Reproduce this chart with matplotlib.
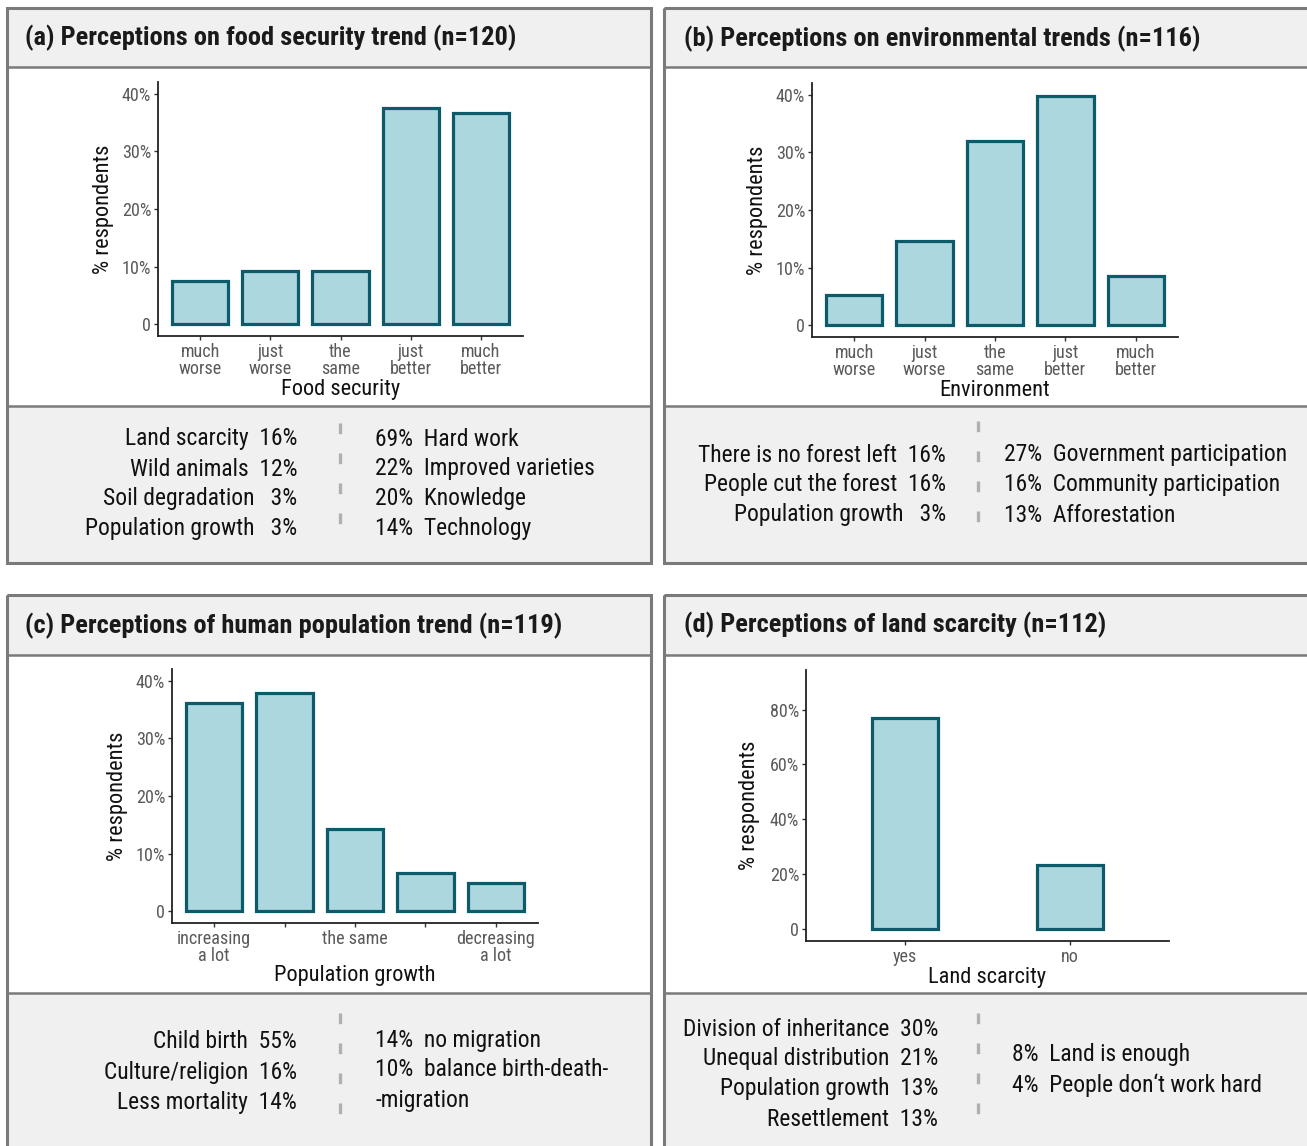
import matplotlib
matplotlib.use("Agg")
import matplotlib.pyplot as plt
from matplotlib.patches import Rectangle
from matplotlib import font_manager

W, H = 1307, 1146

names = {f.name for f in font_manager.fontManager.ttflist}
FONT = 'Roboto Condensed' if 'Roboto Condensed' in names else 'Liberation Sans'
plt.rcParams['font.family'] = [FONT, 'DejaVu Sans']

# ---- data ----
food_cats = ['much\nworse', 'just\nworse', 'the\nsame', 'just\nbetter', 'much\nbetter']
food_vals = [7.5, 9.2, 9.2, 37.5, 36.7]
env_cats = ['much\nworse', 'just\nworse', 'the\nsame', 'just\nbetter', 'much\nbetter']
env_vals = [5.2, 14.7, 31.9, 39.7, 8.6]
pop_cats = ['increasing\na lot', '', 'the same', '', 'decreasing\na lot']
pop_vals = [36.1, 37.8, 14.3, 6.7, 5.0]
land_cats = ['yes', 'no']
land_vals = [76.8, 23.2]

titles = ['(a) Perceptions on food security trend (n=120)',
          '(b) Perceptions on environmental trends (n=116)',
          '(c) Perceptions of human population trend (n=119)',
          '(d) Perceptions of land scarcity (n=112)']
xlabels = ['Food security', 'Environment', 'Population growth', 'Land scarcity']

food_left = ['Land scarcity  16%', 'Wild animals  12%', 'Soil degradation   3%', 'Population growth   3%']
food_right = ['69%  Hard work', '22%  Improved varieties', '20%  Knowledge', '14%  Technology']
env_left = ['There is no forest left  16%', 'People cut the forest  16%', 'Population growth   3%']
env_right = ['27%  Government participation', '16%  Community participation', '13%  Afforestation']
pop_left = ['Child birth  55%', 'Culture/religion  16%', 'Less mortality  14%']
pop_right = ['14%  no migration', '10%  balance birth-death-', '-migration']
land_left = ['Division of inheritance  30%', 'Unequal distribution  21%',
             'Population growth  13%', 'Resettlement  13%']
land_right = ['8%  Land is enough', '4%  People don\u2018t work hard']

FILL = '#acd7de'
EDGE = '#0c5a6a'
PANEL = '#f0f0f0'
BORDER = '#7a7a7a'

# ---- layout (pixels) ----
layout = [
    dict(box=(7, 8, 651, 563), hb=67, cb=406, ax=(158, 82, 523, 336), ymax=40,
         tpos=(25, 38), ylx=104, xly=389, width=0.8,
         lx=297, lys=[439, 469, 499, 529], dx=340, dy=(423, 543), rx=375, rys=[439, 469, 499, 529]),
    dict(box=(664, 8, 1312, 563), hb=67, cb=406, ax=(812, 83, 1178, 337), ymax=40,
         tpos=(684, 39), ylx=758, xly=390, width=0.8,
         lx=946, lys=[455, 485, 515], dx=978, dy=(421, 541), rx=1004, rys=[455, 485, 515]),
    dict(box=(7, 595, 651, 1152), hb=655, cb=993, ax=(172, 669, 538, 923), ymax=40,
         tpos=(25, 626), ylx=118, xly=976, width=0.8,
         lx=297, lys=[1042, 1072, 1102], dx=340, dy=(1013, 1133), rx=375, rys=[1040, 1070, 1100]),
    dict(box=(664, 595, 1312, 1152), hb=655, cb=993, ax=(806, 670, 1169, 941), ymax=90,
         tpos=(684, 625), ylx=750, xly=977, width=0.4,
         lx=938, lys=[1029, 1059, 1089, 1119], dx=978, dy=(1013, 1133), rx=1012, rys=[1055, 1085]),
]

cats = [food_cats, env_cats, pop_cats, land_cats]
vals = [food_vals, env_vals, pop_vals, land_vals]
lefts = [food_left, env_left, pop_left, land_left]
rights = [food_right, env_right, pop_right, land_right]

fig = plt.figure(figsize=(W / 100, H / 100), dpi=100)
renderer = fig.canvas.get_renderer()
bg = fig.add_axes([0, 0, 1, 1])
bg.set_xlim(0, W)
bg.set_ylim(H, 0)
bg.axis('off')


def fit_size(text, target_px, weight='normal'):
    # font size that gives the reference's width for a sample string
    t = fig.text(0, 0, text, fontsize=10, fontweight=weight)
    w = t.get_window_extent(renderer).width
    t.remove()
    return 10 * target_px / w


TITLE_FS = fit_size(titles[0], 492, 'bold')
BODY_FS = fit_size('22%  Improved varieties', 218)
TICK_FS = fit_size('decreasing', 78)
LAB_FS = fit_size('Population growth', 161)


def pct(v, pos):
    return '0' if v == 0 else '%d%%' % v


for i, L in enumerate(layout):
    x0, y0, x1, y1 = L['box']
    # header, chart, text areas
    bg.add_patch(Rectangle((x0, y0), x1 - x0, L['hb'] - y0, fc=PANEL, ec='none'))
    bg.add_patch(Rectangle((x0, L['hb']), x1 - x0, L['cb'] - L['hb'], fc='white', ec='none'))
    bg.add_patch(Rectangle((x0, L['cb']), x1 - x0, y1 - L['cb'], fc=PANEL, ec='none'))
    bg.add_patch(Rectangle((x0, y0), x1 - x0, y1 - y0, fc='none', ec=BORDER, lw=2.2))
    bg.plot([x0, x1], [L['hb'], L['hb']], color=BORDER, lw=1.8)
    bg.plot([x0, x1], [L['cb'], L['cb']], color=BORDER, lw=1.8)

    tx, ty = L['tpos']
    bg.text(tx, ty, titles[i], fontsize=TITLE_FS, fontweight='bold', color='#1a1a1a',
            ha='left', va='center')

    # text columns
    for s, yy in zip(lefts[i], L['lys']):
        bg.text(L['lx'], yy, s, fontsize=BODY_FS, ha='right', va='center', color='#111111')
    for s, yy in zip(rights[i], L['rys']):
        bg.text(L['rx'], yy, s, fontsize=BODY_FS, ha='left', va='center', color='#111111')
    bg.plot([L['dx'], L['dx']], list(L['dy']), color='#b0b0b0', lw=2.4,
            dashes=(3.2, 5.8))

    # bar chart
    ax0, ay0, ax1, ay1 = L['ax']
    ax = fig.add_axes([ax0 / W, 1 - ay1 / H, (ax1 - ax0) / W, (ay1 - ay0) / H])
    n = len(vals[i])
    xs = list(range(1, n + 1))
    ax.bar(xs, vals[i], width=L['width'], color=FILL, edgecolor=EDGE, linewidth=2.3)
    ax.set_xlim(0.4, n + 0.6)
    ymax = L['ymax']
    ax.set_ylim(-ymax * 0.05, ymax * 1.05)
    ax.set_yticks([0, 10, 20, 30, 40] if ymax == 40 else [0, 20, 40, 60, 80])
    ax.yaxis.set_major_formatter(plt.FuncFormatter(pct))
    ax.set_xticks(xs)
    ax.set_xticklabels(cats[i], linespacing=0.95)
    for side in ['top', 'right']:
        ax.spines[side].set_visible(False)
    for side in ['left', 'bottom']:
        ax.spines[side].set_linewidth(1.3)
        ax.spines[side].set_color('#222222')
    ax.tick_params(axis='both', labelsize=TICK_FS, labelcolor='#5a5a5a', color='#333333',
                   length=3, width=1, pad=2)
    ax.set_ylabel('% respondents', fontsize=LAB_FS, color='#111111')
    ax.yaxis.set_label_coords((L['ylx'] - ax0) / (ax1 - ax0), 0.5)
    ax.set_xlabel(xlabels[i], fontsize=LAB_FS, color='#111111')
    ax.xaxis.set_label_coords(0.5, -(L['xly'] - ay1) / (ay1 - ay0))
    ax.xaxis.label.set_va('center')
    ax.yaxis.label.set_va('center')
    ax.set_facecolor('none')

fig.savefig('out.png', dpi=100)
